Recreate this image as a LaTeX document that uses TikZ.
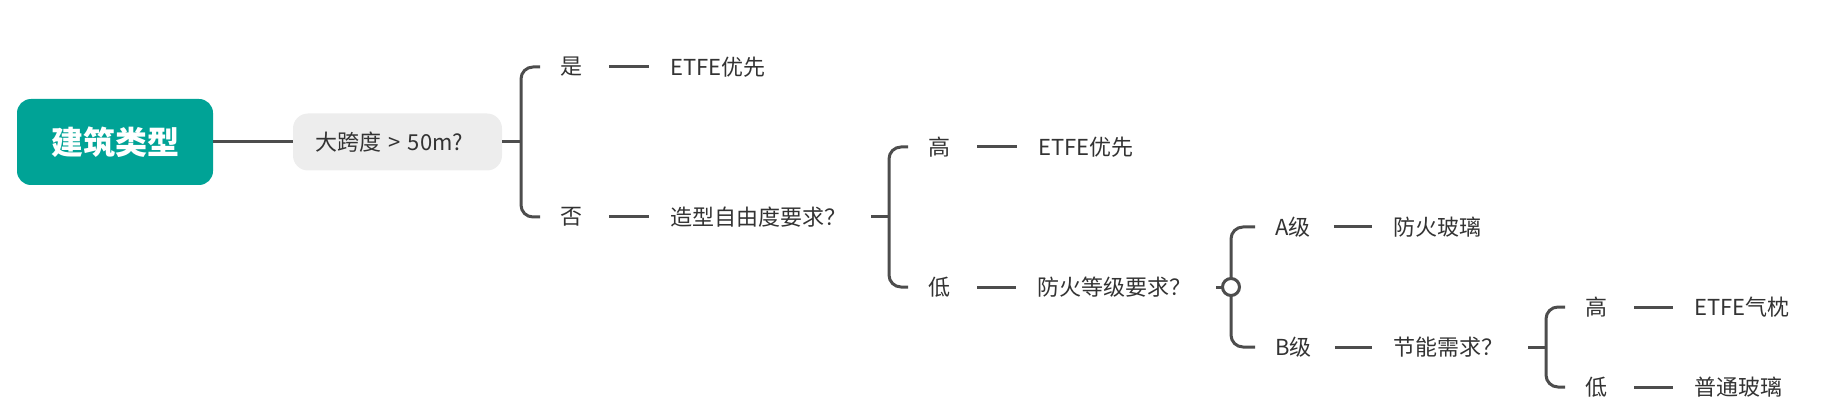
\documentclass[tikz,border=0pt]{standalone}
\usepackage{fontspec}
\setmainfont{Noto Sans CJK SC}
\definecolor{teal1}{RGB}{0,163,150}
\definecolor{linec}{RGB}{77,77,77}
\definecolor{txt}{RGB}{51,51,51}
\definecolor{boxg}{RGB}{237,237,237}
\begin{document}
\begin{tikzpicture}[x=1pt,y=1pt,
  conn/.style={draw=linec, line width=3pt},
  lbl/.style={anchor=west, inner sep=0pt, text=txt, font=\fontsize{22}{26}\selectfont},
  dashln/.style={conn, shorten <=27pt, shorten >=21pt},
  brk/.style={conn, rounded corners=12pt, shorten <=20pt, shorten >=20pt},
  feed/.style={conn, shorten <=25pt}]
\useasboundingbox (0,0) rectangle (1821,-414);
% root and first question
\node[fill=teal1, rounded corners=14pt, minimum width=196pt, minimum height=86pt, text=white,
      font=\fontsize{32}{36}\selectfont\bfseries] (root) at (115,-142) {建筑类型};
\node[fill=boxg, rounded corners=15pt, minimum height=57pt, text width=165pt, inner xsep=22pt,
      inner ysep=0pt, align=left, text=txt, font=\fontsize{22}{26}\selectfont] (q1) at (397.5,-142) {大跨度 > 50m?};
\draw[conn] (root) -- (q1);
% level 1
\coordinate (j1) at (521,-142);
\draw[conn] (q1.east) -- (j1);
\node[lbl] (yes) at (560,-67) {是};
\node[lbl] (r1) at (670,-67) {ETFE优先};
\node[lbl] (no) at (560,-217) {否};
\node[lbl] (q2) at (670,-217) {造型自由度要求？};
\draw[brk] (yes.west) -| (j1) |- (no.west);
\draw[dashln] (yes.east) -- (r1.west);
\draw[dashln] (no.east) -- (q2.west);
% level 2
\coordinate (j2) at (889,-217);
\draw[feed] (q2.east) -- (j2);
\node[lbl] (hi) at (928,-147) {高};
\node[lbl] (r2) at (1038,-147) {ETFE优先};
\node[lbl] (lo) at (928,-287) {低};
\node[lbl] (q3) at (1037,-287) {防火等级要求？};
\draw[brk] (hi.west) -| (j2) |- (lo.west);
\draw[dashln] (hi.east) -- (r2.west);
\draw[dashln] (lo.east) -- (q3.west);
% level 3
\coordinate (j3) at (1231,-287);
\node[lbl] (ga) at (1275,-227) {A级};
\node[lbl] (r3) at (1393,-227) {防火玻璃};
\node[lbl] (gb) at (1275,-347) {B级};
\node[lbl] (q4) at (1393,-347) {节能需求？};
\draw[brk] (ga.west) -| (j3) |- (gb.west);
\draw[feed] (q3.east) -- (j3);
\node[circle, draw=linec, line width=3pt, fill=white, minimum size=17pt, inner sep=0pt] (tog) at (j3) {};
\draw[dashln, shorten <=23pt] (ga.east) -- (r3.west);
\draw[dashln, shorten <=23pt] (gb.east) -- (q4.west);
% level 4
\coordinate (j4) at (1546,-347);
\draw[feed] (q4.east) -- (j4);
\node[lbl] (hi2) at (1585,-307) {高};
\node[lbl] (r4) at (1694,-307) {ETFE气枕};
\node[lbl] (lo2) at (1585,-387) {低};
\node[lbl] (r5) at (1694,-387) {普通玻璃};
\draw[brk] (hi2.west) -| (j4) |- (lo2.west);
\draw[dashln] (hi2.east) -- (r4.west);
\draw[dashln] (lo2.east) -- (r5.west);
\end{tikzpicture}
\end{document}
